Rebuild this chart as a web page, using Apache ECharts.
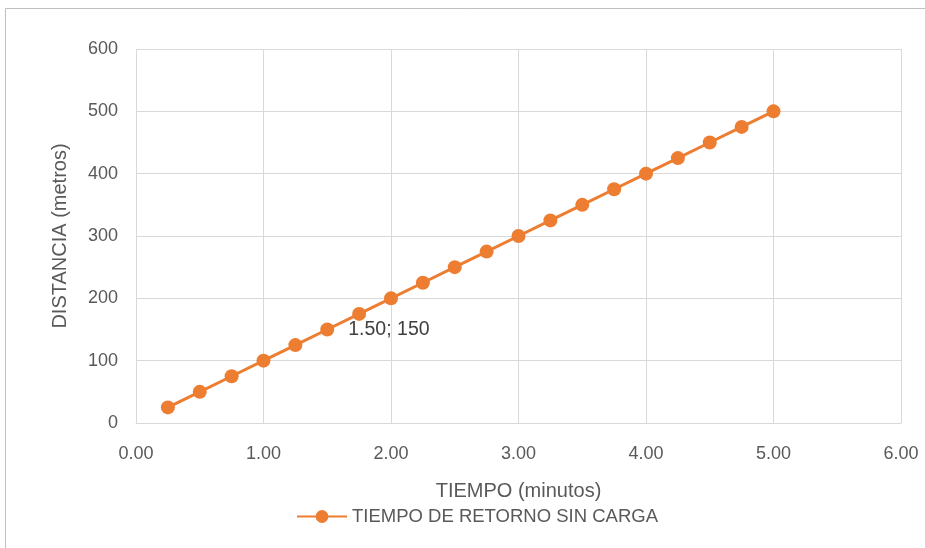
<!DOCTYPE html>
<html><head><meta charset="utf-8">
<script src="https://cdn.jsdelivr.net/npm/echarts@6/dist/echarts.min.js"></script>
<style>html,body{margin:0;padding:0;background:#fff}#c{width:925px;height:548px}</style>
</head><body><div id="c"></div>
<script>
const tiempo = [0.25,0.5,0.75,1,1.25,1.5,1.75,2,2.25,2.5,2.75,3,3.25,3.5,3.75,4,4.25,4.5,4.75,5];
const distancia = [25,50,75,100,125,150,175,200,225,250,275,300,325,350,375,400,425,450,475,500];
const seriesName = 'TIEMPO DE RETORNO SIN CARGA';
const labeledIndex = 5;
const FONT = "'Liberation Sans',sans-serif";
const data = tiempo.map((t,i)=>{
  const d = {value:[t,distancia[i]]};
  if(i===labeledIndex){d.label={show:true,position:'right',distance:14,formatter:t.toFixed(2)+'; '+distancia[i],color:'#404040',fontSize:19.5,fontFamily:FONT}};
  return d;
});
const chart = echarts.init(document.getElementById('c'),null,{renderer:'canvas'});
chart.setOption({
  animation:false,
  textStyle:{fontFamily:FONT},
  graphic:[{type:'rect',shape:{x:5.5,y:8.5,width:940,height:560},style:{fill:'none',stroke:'#bfbfbf',lineWidth:1},z:-10}],
  grid:{left:136,right:24,top:49,bottom:125},
  legend:{bottom:17,left:291,itemWidth:50,itemHeight:16,itemGap:4,
    textStyle:{color:'#595959',fontSize:18.5,fontFamily:FONT},data:[seriesName]},
  xAxis:{type:'value',min:0,max:6,interval:1,
    name:'TIEMPO (minutos)',nameLocation:'middle',nameGap:58,
    nameTextStyle:{color:'#595959',fontSize:20,fontFamily:FONT},
    axisLine:{show:true,lineStyle:{color:'#d9d9d9',width:1}},axisTick:{show:false},
    axisLabel:{color:'#595959',fontSize:18,margin:22,fontFamily:FONT,formatter:v=>v.toFixed(2)},
    splitLine:{show:true,lineStyle:{color:'#d9d9d9',width:1}}},
  yAxis:{type:'value',min:0,max:600,interval:100,
    name:'DISTANCIA (metros)',nameLocation:'middle',nameGap:66,nameRotate:90,
    nameTextStyle:{color:'#595959',fontSize:20,fontFamily:FONT},
    axisLine:{show:false},axisTick:{show:false},
    axisLabel:{color:'#595959',fontSize:18,margin:18,fontFamily:FONT},
    splitLine:{show:true,lineStyle:{color:'#d9d9d9',width:1}}},
  series:[{name:seriesName,type:'line',data:data,
    lineStyle:{color:'#ED7D31',width:3},itemStyle:{color:'#ED7D31'},
    symbol:'circle',symbolSize:14,showSymbol:true}]
});
</script></body></html>
